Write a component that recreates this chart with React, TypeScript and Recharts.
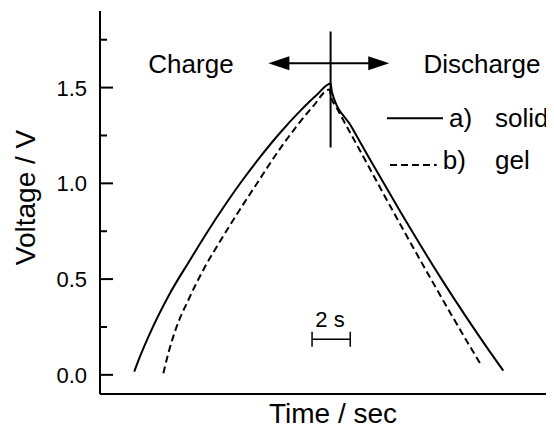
import React from "react";
import {
  LineChart,
  Line,
  XAxis,
  YAxis,
  ReferenceLine,
  ReferenceDot,
  Legend,
} from "recharts";

// a) solid electrolyte: charge then discharge (time in s, voltage in V)
const solidTime = [
  1.81, 2.11, 2.64, 3.7, 4.76, 5.64, 6.7, 7.49, 8.46, 9.51, 10.57, 11.45,
  12.19, 12.26, 13.27, 14.22, 15.91, 16.56, 17.97, 19.38, 20.44, 21.32,
];
const solidVoltage = [
  0.017, 0.095, 0.217, 0.426, 0.6, 0.741, 0.9, 1.011, 1.137, 1.263, 1.377,
  1.461, 1.522, 1.477, 1.299, 1.134, 0.847, 0.739, 0.513, 0.299, 0.145, 0.022,
];

// b) gel electrolyte
const gelTime = [
  3.35, 3.61, 4.05, 4.67, 5.46, 6.17, 6.87, 7.57, 8.28, 9.34, 10.4, 11.27,
  12.12, 12.22, 12.51, 13.74, 15.01, 16.21, 17.44, 18.67, 19.56, 20.17,
];
const gelVoltage = [
  0.008, 0.112, 0.251, 0.391, 0.548, 0.669, 0.781, 0.89, 0.997, 1.156, 1.299,
  1.403, 1.49, 1.45, 1.395, 1.172, 0.941, 0.726, 0.51, 0.298, 0.148, 0.047,
];

const yTicks = [0, 0.25, 0.5, 0.75, 1, 1.25, 1.5, 1.75];
const yMajor = [0, 0.5, 1, 1.5];

const series = [
  { key: "solid", tag: "a)", label: "solid", time: solidTime, voltage: solidVoltage, dash: undefined },
  { key: "gel", tag: "b)", label: "gel", time: gelTime, voltage: gelVoltage, dash: "7 4" },
];

// annotations, in data units
const switchTime = 12.19;
const crossVoltage = [1.187, 1.793];
const arrowTime = [8.9, 15.29];
const arrowVoltage = 1.627;
const scaleBarTime = [11.21, 13.23];
const scaleBarVoltage = 0.186;

const FONT = "'Liberation Sans', Arial, Helvetica, sans-serif";

function YTick(props: any) {
  const { x, y, payload } = props;
  const ax = x + 13;
  const major = yMajor.includes(payload.value);
  return (
    <g>
      <line x1={ax} x2={ax + (major ? 13 : 7)} y1={y} y2={y} stroke="#000" strokeWidth={2} />
      {major && (
        <text x={x} y={y} dy="0.36em" textAnchor="end" fontSize={22} fontFamily={FONT} fill="#000">
          {payload.value.toFixed(1)}
        </text>
      )}
    </g>
  );
}

function ArrowShape(props: any) {
  const { x1, y1, x2, y2 } = props;
  const h = 21;
  const w = 7;
  return (
    <g>
      <line x1={x1 + h - 2} y1={y1} x2={x2 - h + 2} y2={y2} stroke="#000" strokeWidth={2} />
      <polygon points={`${x1},${y1} ${x1 + h},${y1 - w} ${x1 + h},${y1 + w}`} fill="#000" />
      <polygon points={`${x2},${y2} ${x2 - h},${y2 - w} ${x2 - h},${y2 + w}`} fill="#000" />
    </g>
  );
}

function ScaleBarShape(props: any) {
  const { x1, y1, x2, y2 } = props;
  return (
    <g stroke="#000" strokeWidth={1.5}>
      <line x1={x1} y1={y1} x2={x2} y2={y2} />
      <line x1={x1} y1={y1 - 7.5} x2={x1} y2={y1 + 7.5} />
      <line x1={x2} y1={y2 - 7.5} x2={x2} y2={y2 + 7.5} />
    </g>
  );
}

const textShape = (value: string, size: number) => (p: any) => (
  <text x={p.cx} y={p.cy} textAnchor="middle" fontSize={size} fontFamily={FONT} fill="#000">
    {value}
  </text>
);

function LegendBox() {
  const rows = [
    { line: [7, 63], ly: 18.3, tx: 69, ty: 26.7 },
    { line: [10, 56.7], ly: 65, tx: 62.7, ty: 68.5 },
  ];
  return (
    <svg width={170} height={80} style={{ overflow: "visible", display: "block" }}>
      {series.map((s, i) => {
        const r = rows[i];
        return (
          <g key={s.key}>
            <line x1={r.line[0]} x2={r.line[1]} y1={r.ly} y2={r.ly} stroke="#000" strokeWidth={2} strokeDasharray={s.dash} />
            <text x={r.tx} y={r.ty} fontSize={26} fontFamily={FONT} fill="#000">{s.tag}</text>
            <text x={115} y={r.ty} fontSize={26} fontFamily={FONT} fill="#000">{s.label}</text>
          </g>
        );
      })}
    </svg>
  );
}

export default function App() {
  return (
    <LineChart width={546} height={436} margin={{ top: 3, right: 0, bottom: 0, left: 0 }}>
      <XAxis
        dataKey="t"
        type="number"
        domain={[0, 24]}
        tick={false}
        tickLine={false}
        axisLine={{ stroke: "#000", strokeWidth: 2 }}
        height={50}
        label={{
          content: ({ viewBox }: any) => (
            <text x={viewBox.x + viewBox.width / 2 + 6} y={viewBox.y + 28.7} textAnchor="middle" fontSize={28} fontFamily={FONT} fill="#000">
              Time / sec
            </text>
          ),
        }}
      />
      <XAxis
        xAxisId="top"
        orientation="top"
        type="number"
        domain={[0, 24]}
        height={0}
        tick={false}
        tickLine={false}
        axisLine={{ stroke: "#000", strokeWidth: 2 }}
      />
      <YAxis
        type="number"
        domain={[-0.1, 1.9]}
        ticks={yTicks}
        interval={0}
        width={92}
        tickSize={0}
        tickMargin={13}
        tickLine={false}
        tick={YTick}
        axisLine={{ stroke: "#000", strokeWidth: 2 }}
        label={{
          content: ({ viewBox }: any) => {
            const cx = viewBox.x + 27;
            const cy = viewBox.y + viewBox.height / 2 - 5;
            return (
              <text x={cx} y={cy} transform={`rotate(-90 ${cx} ${cy})`} textAnchor="middle" fontSize={28} fontFamily={FONT} fill="#000">
                Voltage / V
              </text>
            );
          },
        }}
      />
      {series.map((s) => (
        <Line
          key={s.key}
          data={s.time.map((t, i) => ({ t, v: s.voltage[i] }))}
          dataKey="v"
          name={s.label}
          type="monotone"
          stroke="#000"
          strokeWidth={2}
          strokeDasharray={s.dash}
          dot={false}
          activeDot={false}
          isAnimationActive={false}
        />
      ))}
      <ReferenceLine
        segment={[
          { x: switchTime, y: crossVoltage[0] },
          { x: switchTime, y: crossVoltage[1] },
        ]}
        stroke="#000"
        strokeWidth={2}
      />
      <ReferenceLine
        segment={[
          { x: arrowTime[0], y: arrowVoltage },
          { x: arrowTime[1], y: arrowVoltage },
        ]}
        shape={ArrowShape}
      />
      <ReferenceLine
        segment={[
          { x: scaleBarTime[0], y: scaleBarVoltage },
          { x: scaleBarTime[1], y: scaleBarVoltage },
        ]}
        shape={ScaleBarShape}
      />
      <ReferenceDot x={4.81} y={1.576} shape={textShape("Charge", 26)} />
      <ReferenceDot x={20.19} y={1.575} shape={textShape("Discharge", 26)} />
      <ReferenceDot x={12.16} y={0.251} shape={textShape("2 s", 22)} />
      <Legend
        layout="horizontal"
        verticalAlign="middle"
        align="center"
        wrapperStyle={{ left: 372, top: 92, width: 170, height: 80 }}
        content={() => <LegendBox />}
      />
    </LineChart>
  );
}
